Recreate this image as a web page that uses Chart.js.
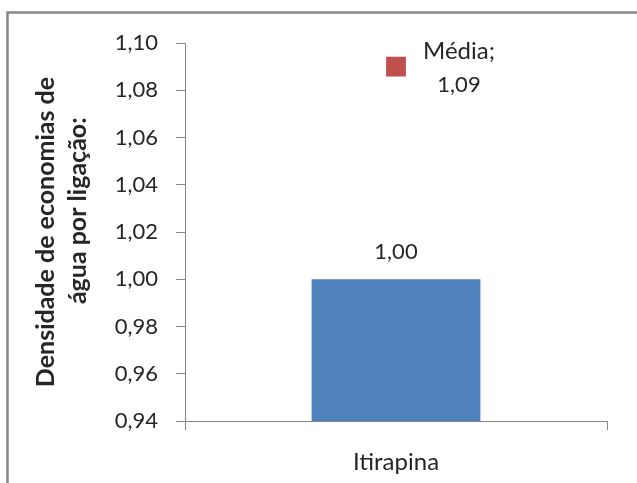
<!DOCTYPE html>
<html>
<head>
<meta charset="utf-8">
<script src="https://cdn.jsdelivr.net/npm/chart.js@4/dist/chart.umd.min.js"></script>
<style>
  html, body { margin: 0; padding: 0; background: #ffffff; }
  #wrap { width: 637px; height: 483px; }
</style>
</head>
<body>
<div id="wrap"><canvas id="c" width="637" height="483"></canvas></div>
<script>
// Water economies per connection, municipality vs. reference average
const categories = ['Itirapina'];
const densityValues = [1.00];
const averageLabel = 'Média';
const averageValues = [1.09];
const yTitleLines = ['Densidade de economias de', '\u00A0\u00A0\u00A0\u00A0\u00A0\u00A0\u00A0água por ligação:'];
const yMin = 0.94;
const yMax = 1.10;
const yStep = 0.02;

const FONT = 'Lato, "Liberation Sans", sans-serif';
const TEXT = '#262626';
const AXIS = '#868686';

const fmt = v => v.toFixed(2).replace('.', ',');

// Outer frame of the chart object
const framePlugin = {
  id: 'frame',
  beforeDraw(chart) {
    const ctx = chart.ctx;
    ctx.save();
    ctx.fillStyle = '#ffffff';
    ctx.fillRect(0, 0, chart.width, chart.height);
    ctx.strokeStyle = '#888888';
    ctx.lineWidth = 2.5;
    ctx.strokeRect(7.5, 12.5, chart.width + 20, chart.height + 20);
    ctx.restore();
  }
};

// Value labels: above the bar, and beside the average marker
const labelPlugin = {
  id: 'valueLabels',
  afterDatasetsDraw(chart) {
    const ctx = chart.ctx;
    ctx.save();
    ctx.fillStyle = TEXT;
    ctx.textAlign = 'center';
    ctx.textBaseline = 'middle';

    const barMeta = chart.getDatasetMeta(0);
    barMeta.data.forEach((el, i) => {
      ctx.font = '22px ' + FONT;
      ctx.fillText(fmt(densityValues[i]), el.x, el.y - 27);
    });

    const avgMeta = chart.getDatasetMeta(1);
    avgMeta.data.forEach((el, i) => {
      ctx.font = '24px ' + FONT;
      ctx.fillText(averageLabel + ';', el.x + 63, el.y - 15);
      ctx.font = '22px ' + FONT;
      ctx.fillText(fmt(averageValues[i]), el.x + 63, el.y + 18);
    });
    ctx.restore();
  }
};

new Chart(document.getElementById('c'), {
  data: {
    labels: categories,
    datasets: [
      {
        type: 'bar',
        label: 'Itirapina',
        data: densityValues,
        backgroundColor: '#4F81BD',
        borderWidth: 0,
        barPercentage: 0.4,
        categoryPercentage: 1.0,
        order: 2
      },
      {
        type: 'line',
        label: averageLabel,
        data: averageValues,
        showLine: false,
        pointStyle: 'rect',
        pointRadius: 14,
        pointBackgroundColor: '#C0504D',
        pointBorderWidth: 0,
        order: 1
      }
    ]
  },
  options: {
    responsive: false,
    animation: false,
    layout: { padding: { top: 43, right: 30, left: 0, bottom: 0 } },
    plugins: {
      legend: { display: false },
      tooltip: { enabled: false }
    },
    scales: {
      x: {
        offset: true,
        grid: { drawOnChartArea: false, drawTicks: true, tickLength: 9, color: AXIS, offset: true },
        border: { color: AXIS, width: 1 },
        ticks: { color: TEXT, font: { family: FONT, size: 24 }, padding: 18 },
        afterFit(scale) { scale.height = 62; }
      },
      y: {
        min: yMin,
        max: yMax,
        grid: { drawOnChartArea: false, drawTicks: true, tickLength: 9, color: AXIS },
        border: { color: AXIS, width: 1 },
        ticks: {
          stepSize: yStep,
          color: TEXT,
          font: { family: FONT, size: 22 },
          padding: 18,
          callback: v => fmt(v)
        },
        title: {
          display: true,
          text: yTitleLines,
          color: TEXT,
          font: { family: FONT, size: 25, weight: 'bold', lineHeight: 1.28 },
          padding: { top: 30, bottom: 0 }
        },
        afterFit(scale) { scale.width = 185; }
      }
    }
  },
  plugins: [framePlugin, labelPlugin]
});
</script>
</body>
</html>
